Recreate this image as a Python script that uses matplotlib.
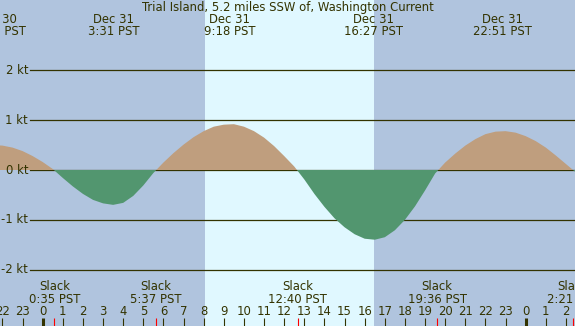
import numpy as np
import matplotlib.pyplot as plt

# tidal current at Trial Island, read every half hour (hours from Dec 31 00:00 PST)
hours = np.arange(-2.5, 27.0, 0.5)
speed = np.array([
    0.50, 0.49, 0.45, 0.38, 0.28, 0.16, 0.02, -0.16, -0.33, -0.48,
    -0.60, -0.67, -0.70, -0.66, -0.52, -0.31, -0.06, 0.15, 0.34, 0.51,
    0.66, 0.78, 0.87, 0.91, 0.92, 0.87, 0.78, 0.65, 0.48, 0.28,
    0.07, -0.19, -0.48, -0.74, -0.97, -1.15, -1.29, -1.38, -1.40, -1.35,
    -1.21, -1.00, -0.73, -0.41, -0.07, 0.15, 0.33, 0.49, 0.62, 0.72,
    0.77, 0.78, 0.75, 0.68, 0.58, 0.45, 0.29, 0.12, -0.05,
])

# max flood / max ebb events (top labels)
max_hours = [-2.30, 3.517, 9.30, 16.45, 22.85]
max_dates = ['Dec 30', 'Dec 31', 'Dec 31', 'Dec 31', 'Dec 31']
max_times = ['21:42 PST', '3:31 PST', '9:18 PST', '16:27 PST', '22:51 PST']

# slack water events (bottom labels, red ticks)
slack_hours = [0.583, 5.617, 12.667, 19.60, 26.35]
slack_times = ['0:35 PST', '5:37 PST', '12:40 PST', '19:36 PST', '2:21 PST']

sunrise = 8.07
sunset = 16.46
kt_levels = [2, 1, 0, -1, -2]
hour_ticks = list(range(-2, 27))

W, H = 575, 326
px_hour = 20.125      # pixels per hour
x_mid = 42.7          # pixel column of Dec 31 00:00
y_zero = 170          # pixel row of 0 kt
px_kt = 49.8          # pixels per knot

night = '#B0C4DE'
day = '#E0F8FF'
flood = '#BF9E7E'
ebb = '#52966F'
ink = '#333300'
fs = 8.4

plt.rcParams['font.family'] = 'DejaVu Sans'

fig = plt.figure(figsize=(W / 100, H / 100), dpi=100)
ax = fig.add_axes([0, 0, 1, 1])
ax.set_xlim(-x_mid / px_hour, (W - x_mid) / px_hour)
ax.set_ylim(-(H - y_zero) / px_kt, y_zero / px_kt)
ax.axis('off')
fig.patch.set_facecolor(night)

trans = ax.get_xaxis_transform()


def row(p):
    # pixel row from top -> axes fraction
    return 1 - p / H


# daylight
ax.axvspan(sunrise, sunset, color=day, lw=0, zorder=0)

# knot lines and labels
for k in kt_levels:
    ax.axhline(k, xmin=30 / W, xmax=1, color=ink, lw=0.9, zorder=1)
    ax.text(28 / W, k, f'{k} kt', transform=ax.get_yaxis_transform(),
            ha='right', va='center', fontsize=fs, color=ink)

# current curve
ax.fill_between(hours, speed, 0, where=speed >= 0, interpolate=True,
                color=flood, lw=0, zorder=2)
ax.fill_between(hours, speed, 0, where=speed <= 0, interpolate=True,
                color=ebb, lw=0, zorder=2)

# title
ax.text(0.5, row(7.5), 'Trial Island, 5.2 miles SSW of, Washington Current',
        transform=ax.transAxes, ha='center', va='center', fontsize=fs, color=ink)

# max current labels
for h, d, t in zip(max_hours, max_dates, max_times):
    ax.text(h, row(19.5), d, transform=trans, ha='center', va='center',
            fontsize=fs, color=ink)
    ax.text(h, row(31.5), t, transform=trans, ha='center', va='center',
            fontsize=fs, color=ink)

# slack labels
for h, t in zip(slack_hours, slack_times):
    ax.text(h, row(287), 'Slack', transform=trans, ha='center', va='center',
            fontsize=fs, color=ink)
    ax.text(h, row(299.5), t, transform=trans, ha='center', va='center',
            fontsize=fs, color=ink)
    ax.vlines(h, row(H), row(318), transform=trans, color='red', lw=0.8)

# hour ticks
for h in hour_ticks:
    lw = 2.2 if h % 24 == 0 else 0.8
    ax.vlines(h, row(H), row(318), transform=trans, color=ink, lw=lw)
    ax.text(h, row(311.5), str(h % 24), transform=trans, ha='center',
            va='center', fontsize=fs, color=ink)

fig.savefig('out.png', dpi=100, facecolor=night)
